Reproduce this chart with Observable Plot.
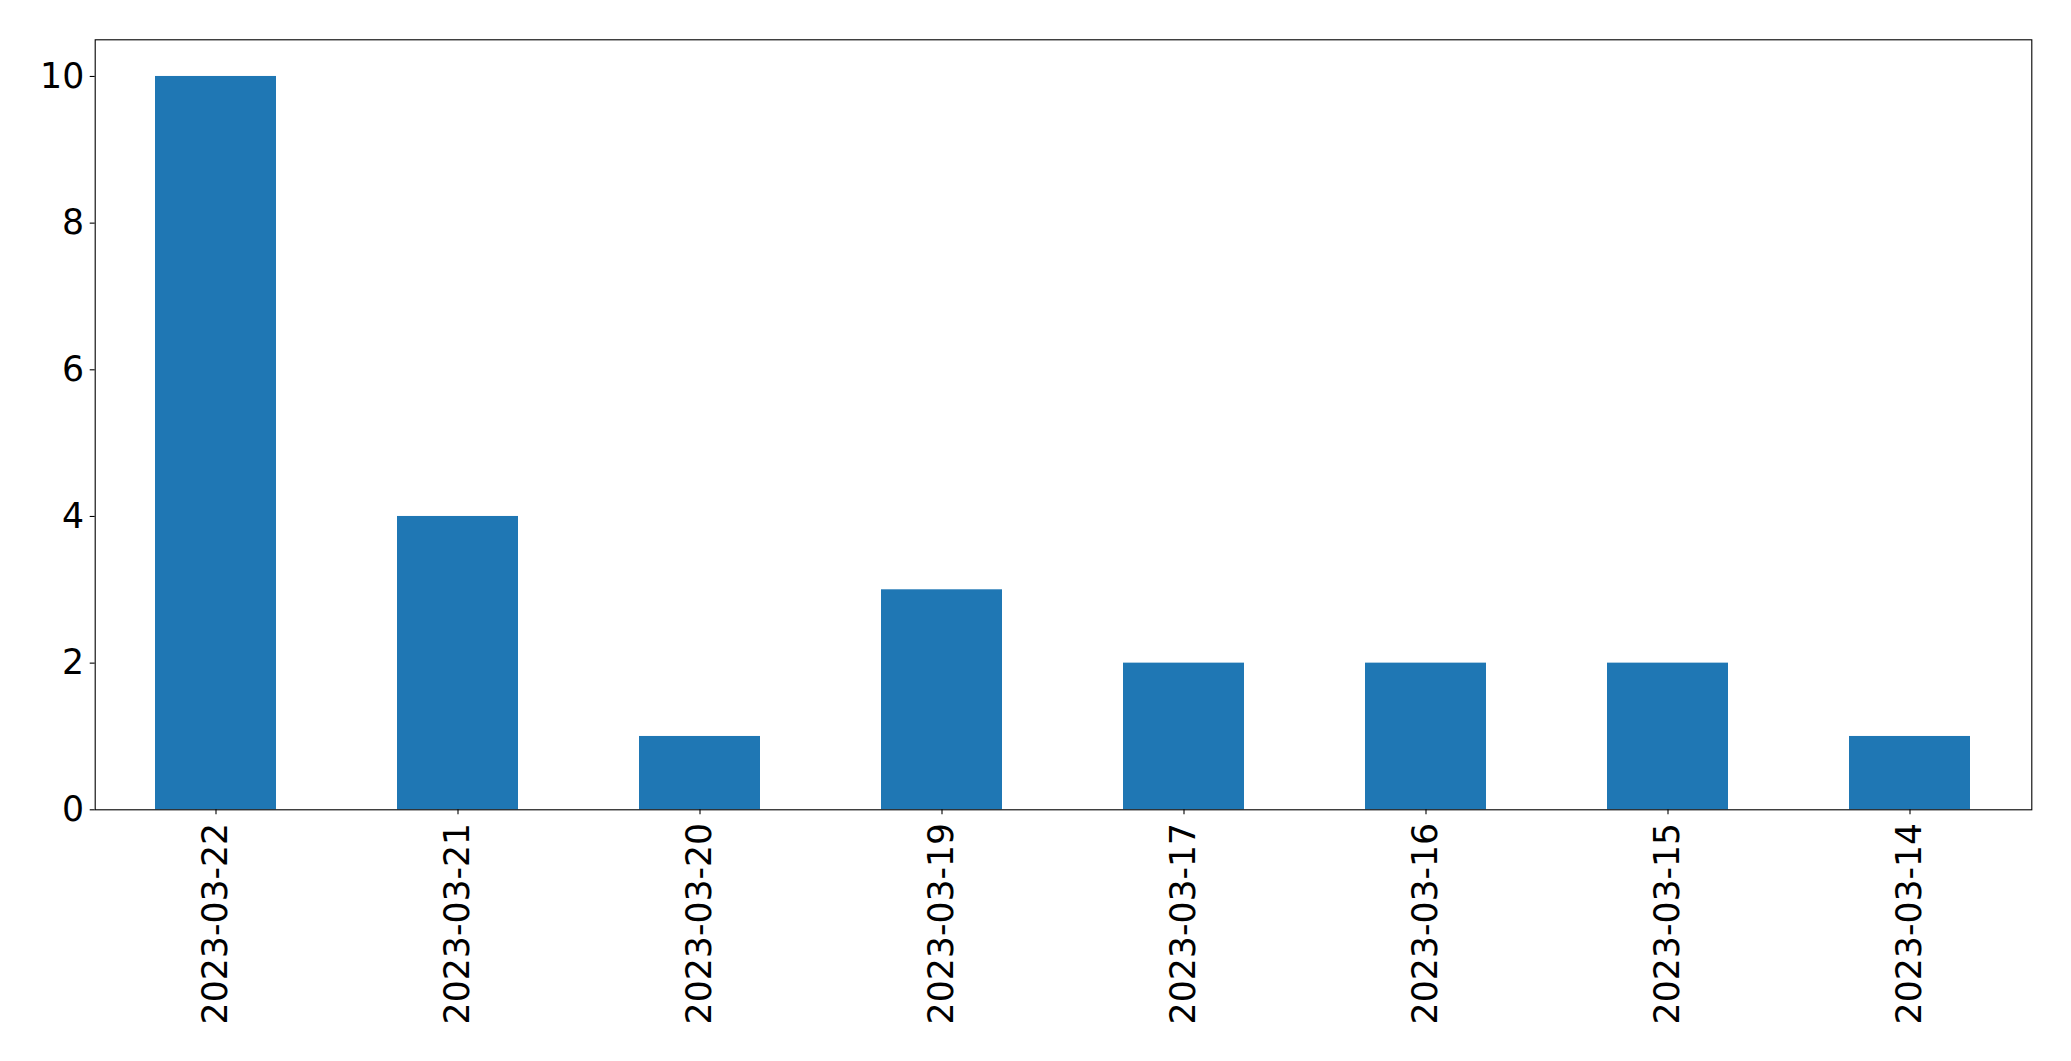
<!DOCTYPE html>
<html>
<head>
<meta charset="utf-8">
<script src="https://cdn.jsdelivr.net/npm/d3@7"></script>
<script src="https://cdn.jsdelivr.net/npm/@observablehq/plot@0.6"></script>
<style>
  html, body { margin: 0; padding: 0; background: #fff; overflow: hidden; }
  svg { display: block; }
</style>
</head>
<body>
<div id="chart"></div>
<script>
const dates = ["2023-03-22", "2023-03-21", "2023-03-20", "2023-03-19", "2023-03-17", "2023-03-16", "2023-03-15", "2023-03-14"];
const counts = [10, 4, 1, 3, 2, 2, 2, 1];
const yTicks = [0, 2, 4, 6, 8, 10];

const data = dates.map((d, i) => ({date: d, count: counts[i]}));

const chart = Plot.plot({
  width: 2071,
  height: 1061,
  marginLeft: 94.7,
  marginRight: 39.7,
  marginTop: 39.3,
  marginBottom: 251.7,
  style: {fontFamily: "DejaVu Sans", fontSize: "34.7px", background: "#fff", color: "#000"},
  x: {type: "band", domain: dates, paddingInner: 0.5, paddingOuter: 0.25, label: null},
  y: {domain: [0, 10.5], label: null},
  marks: [
    Plot.barY(data, {x: "date", y: "count", fill: "#1f77b4"}),
    Plot.frame({stroke: "#000", strokeWidth: 1.1}),
    Plot.axisY({ticks: yTicks, tickSize: 5, tickPadding: 6, tickFormat: d => String(d), label: null, strokeWidth: 1.1}),
    Plot.axisX({tickSize: 5, tickPadding: 8, tickRotate: -90, label: null, strokeWidth: 1.1})
  ]
});
document.getElementById("chart").appendChild(chart);
</script>
</body>
</html>
